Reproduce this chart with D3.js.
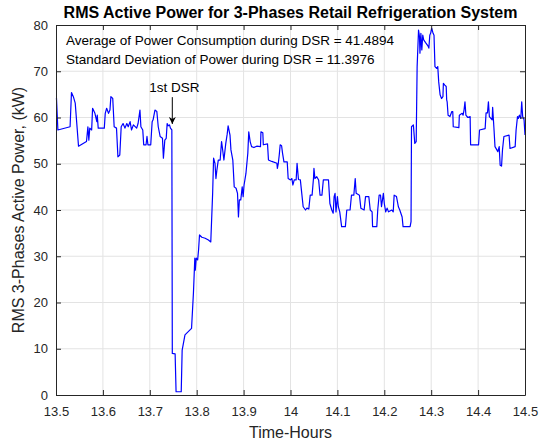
<!DOCTYPE html>
<html>
<head>
<meta charset="utf-8">
<script src="https://cdn.jsdelivr.net/npm/d3@7"></script>
<style>
  body { margin: 0; background: #fff; }
  svg { display: block; font-family: "Liberation Sans", Arial, sans-serif; }
</style>
</head>
<body>
<div id="chart"></div>
<script>
var width = 544, height = 444;
var margin = { top: 25, right: 19, bottom: 49, left: 56 };

// time in hours
var hours = [
  13.501, 13.504, 13.530, 13.533, 13.537, 13.541, 13.548, 13.565, 13.568, 13.570,
  13.572, 13.576, 13.578, 13.583, 13.587, 13.588, 13.590, 13.603, 13.605, 13.608,
  13.612, 13.615, 13.617, 13.621, 13.624, 13.629, 13.632, 13.636, 13.639, 13.643,
  13.647, 13.651, 13.654, 13.658, 13.661, 13.665, 13.672, 13.675, 13.679, 13.681,
  13.685, 13.687, 13.692, 13.694, 13.696, 13.702, 13.705, 13.707, 13.711, 13.715,
  13.718, 13.722, 13.727, 13.729, 13.732, 13.735, 13.737, 13.739, 13.742, 13.744,
  13.747, 13.748, 13.754, 13.756, 13.767, 13.769, 13.775, 13.789, 13.793, 13.796,
  13.797, 13.799, 13.802, 13.804, 13.806, 13.811, 13.818, 13.825, 13.830, 13.834,
  13.836, 13.839, 13.841, 13.843, 13.846, 13.850, 13.853, 13.855, 13.858, 13.862,
  13.865, 13.867, 13.871, 13.873, 13.877, 13.880, 13.884, 13.887, 13.889, 13.891,
  13.894, 13.897, 13.899, 13.901, 13.905, 13.909, 13.911, 13.914, 13.917, 13.922,
  13.928, 13.936, 13.937, 13.941, 13.942, 13.951, 13.953, 13.960, 13.971, 13.972,
  13.974, 13.976, 13.978, 13.981, 13.983, 13.986, 13.993, 13.995, 14.000, 14.003,
  14.005, 14.008, 14.012, 14.014, 14.017, 14.021, 14.024, 14.027, 14.032, 14.035,
  14.039, 14.042, 14.046, 14.049, 14.050, 14.052, 14.056, 14.060, 14.063, 14.067,
  14.070, 14.081, 14.084, 14.088, 14.091, 14.093, 14.095, 14.097, 14.100, 14.102,
  14.105, 14.109, 14.117, 14.120, 14.127, 14.130, 14.135, 14.138, 14.140, 14.147,
  14.150, 14.157, 14.160, 14.167, 14.170, 14.174, 14.175, 14.184, 14.186, 14.189,
  14.192, 14.194, 14.198, 14.200, 14.203, 14.206, 14.209, 14.216, 14.219, 14.221,
  14.226, 14.230, 14.233, 14.238, 14.240, 14.255, 14.257, 14.258, 14.262, 14.265,
  14.268, 14.270, 14.273, 14.275, 14.276, 14.278, 14.280, 14.282, 14.284, 14.288,
  14.293, 14.295, 14.297, 14.299, 14.301, 14.304, 14.306, 14.308, 14.312, 14.314,
  14.316, 14.319, 14.322, 14.325, 14.326, 14.329, 14.332, 14.333, 14.334, 14.336,
  14.340, 14.344, 14.346, 14.347, 14.359, 14.360, 14.366, 14.368, 14.370, 14.372,
  14.374, 14.378, 14.383, 14.384, 14.401, 14.403, 14.415, 14.417, 14.420, 14.422,
  14.424, 14.430, 14.431, 14.434, 14.436, 14.440, 14.442, 14.445, 14.447, 14.450,
  14.452, 14.455, 14.466, 14.468, 14.479, 14.481, 14.484, 14.486, 14.488, 14.491,
  14.493, 14.495, 14.498, 14.500
];

// RMS 3-phase active power, kW
var power = [
  64.2, 57.3, 58.0, 65.4, 64.5, 63.1, 53.8, 54.8, 58.0, 55.1,
  57.7, 57.3, 62.0, 60.9, 59.1, 60.5, 57.7, 57.7, 60.9, 62.0,
  60.9, 61.6, 64.5, 64.1, 58.0, 57.7, 51.5, 51.9, 58.0, 58.7,
  57.7, 58.7, 58.0, 59.1, 57.3, 58.4, 57.7, 58.7, 61.6, 58.0,
  57.3, 54.1, 54.1, 55.9, 54.1, 54.1, 59.1, 59.5, 61.6, 61.3,
  58.0, 55.9, 55.5, 51.2, 55.1, 55.5, 58.7, 58.2, 58.4, 57.7,
  57.3, 9.0, 8.9, 0.7, 0.7, 9.7, 13.0, 14.4, 22.0, 29.6,
  27.0, 29.6, 29.2, 31.4, 34.6, 34.1, 33.9, 33.5, 33.1, 43.6,
  51.2, 50.1, 46.8, 48.6, 50.8, 50.8, 54.8, 53.3, 50.8, 54.4,
  56.4, 58.2, 56.2, 53.0, 50.8, 45.0, 44.7, 43.6, 38.5, 42.2,
  42.2, 45.0, 42.9, 45.4, 47.9, 52.3, 56.9, 54.8, 53.7, 53.5,
  53.8, 53.7, 56.9, 56.7, 54.1, 54.3, 50.8, 50.5, 50.1, 49.0,
  50.1, 51.9, 54.1, 53.9, 52.3, 50.4, 50.4, 46.8, 46.5, 46.8,
  45.4, 46.5, 46.5, 50.1, 46.6, 46.5, 43.6, 40.7, 40.0, 40.4,
  40.2, 43.2, 43.2, 46.8, 49.0, 46.8, 47.2, 46.5, 43.2, 43.2,
  46.5, 46.5, 41.4, 40.0, 39.3, 42.9, 43.6, 39.6, 42.9, 40.7,
  39.6, 36.4, 36.4, 40.0, 40.0, 43.2, 43.2, 46.8, 43.6, 43.2,
  40.4, 40.0, 42.9, 42.9, 40.0, 39.6, 36.4, 36.4, 40.0, 43.2,
  43.2, 40.7, 43.6, 41.4, 39.6, 40.4, 39.6, 40.0, 39.6, 43.2,
  42.9, 40.7, 40.0, 38.5, 36.4, 36.4, 37.5, 58.0, 58.4, 54.4,
  54.8, 71.0, 78.9, 77.5, 73.9, 78.2, 74.6, 77.8, 76.8, 76.2,
  75.5, 75.0, 77.8, 78.3, 79.3, 78.2, 77.8, 71.0, 70.6, 71.0,
  67.7, 64.9, 64.1, 64.5, 67.4, 67.0, 66.7, 63.8, 63.4, 60.5,
  60.2, 61.3, 61.3, 58.0, 57.8, 60.5, 60.9, 60.5, 61.6, 63.4,
  60.5, 60.0, 60.2, 54.1, 54.1, 57.3, 57.6, 61.0, 61.0, 63.4,
  60.2, 59.5, 62.2, 57.3, 53.7, 53.0, 52.6, 53.7, 49.7, 49.5,
  53.0, 55.9, 56.2, 53.3, 53.7, 57.3, 60.2, 59.8, 60.5, 59.8,
  63.4, 60.2, 59.5, 56.2
];

var xTicks = [13.5, 13.6, 13.7, 13.8, 13.9, 14, 14.1, 14.2, 14.3, 14.4, 14.5];
var yTicks = [0, 10, 20, 30, 40, 50, 60, 70, 80];

var titleText = "RMS Active Power for 3-Phases Retail Refrigeration System";
var statLines = [
  "Average of Power Consumption during DSR = 41.4894",
  "Standard Deviation of Power during DSR = 11.3976"
];
var dsrLabel = "1st DSR";
var dsrPoint = { t: 13.748, v: 58.6, tail: 64.4 };

var w = width - margin.left - margin.right;
var h = height - margin.top - margin.bottom;

var svg = d3.select("#chart").append("svg")
  .attr("width", width).attr("height", height);

svg.append("defs").append("marker")
  .attr("id", "head")
  .attr("viewBox", "0 0 10 10")
  .attr("refX", 10).attr("refY", 5)
  .attr("markerWidth", 7).attr("markerHeight", 7)
  .attr("markerUnits", "userSpaceOnUse")
  .attr("orient", "auto")
  .append("path").attr("d", "M0,0 L10,5 L0,10 L3,5 Z").attr("fill", "#000");

var g = svg.append("g").attr("transform", "translate(" + margin.left + "," + margin.top + ")");

var x = d3.scaleLinear().domain([13.5, 14.5]).range([0, w]);
var y = d3.scaleLinear().domain([0, 80]).range([h, 0]);

// grid
g.append("g").selectAll("line").data(xTicks.slice(1, -1)).enter().append("line")
  .attr("x1", function(d) { return x(d); }).attr("x2", function(d) { return x(d); })
  .attr("y1", 0).attr("y2", h)
  .style("stroke", "#e3e3e3").style("stroke-width", 1);
g.append("g").selectAll("line").data(yTicks.slice(1, -1)).enter().append("line")
  .attr("y1", function(d) { return y(d); }).attr("y2", function(d) { return y(d); })
  .attr("x1", 0).attr("x2", w)
  .style("stroke", "#e3e3e3").style("stroke-width", 1);

// data line
var pts = hours.map(function(t, i) { return [t, power[i]]; });
var line = d3.line()
  .x(function(d) { return x(d[0]); })
  .y(function(d) { return y(d[1]); });

g.append("path").datum(pts)
  .attr("d", line)
  .attr("fill", "none")
  .style("stroke", "#0000ff")
  .style("stroke-width", 1.2)
  .style("stroke-linejoin", "round");

// axes, MATLAB style inward ticks on all sides
var tickLen = 5;
var xBottom = g.append("g").attr("transform", "translate(0," + h + ")")
  .call(d3.axisBottom(x).tickValues(xTicks).tickSizeInner(-tickLen).tickSizeOuter(0).tickPadding(12)
    .tickFormat(function(d) { return d3.format("")(d); }));
var xTop = g.append("g")
  .call(d3.axisTop(x).tickValues(xTicks).tickSizeInner(-tickLen).tickSizeOuter(0).tickFormat(""));
var yLeft = g.append("g")
  .call(d3.axisLeft(y).tickValues(yTicks).tickSizeInner(-tickLen).tickSizeOuter(0).tickPadding(8));
var yRight = g.append("g").attr("transform", "translate(" + w + ",0)")
  .call(d3.axisRight(y).tickValues(yTicks).tickSizeInner(-tickLen).tickSizeOuter(0).tickFormat(""));

[xBottom, xTop, yLeft, yRight].forEach(function(a) {
  a.select(".domain").style("stroke", "#262626").style("stroke-width", 1);
  a.selectAll(".tick line").style("stroke", "#262626");
  a.selectAll("text").style("font-size", "13px").style("fill", "#262626")
    .style("font-family", "'Liberation Sans', Arial, sans-serif");
});

// labels
svg.append("text")
  .attr("x", margin.left + w / 2).attr("y", 18)
  .attr("text-anchor", "middle")
  .style("font-weight", "bold").style("font-size", "16px").style("fill", "#000")
  .text(titleText);

svg.append("text")
  .attr("x", margin.left + w / 2).attr("y", 438)
  .attr("text-anchor", "middle")
  .style("font-size", "16px").style("fill", "#262626")
  .text("Time-Hours");

svg.append("text")
  .attr("transform", "translate(24," + (margin.top + h / 2) + ") rotate(-90)")
  .attr("text-anchor", "middle")
  .style("font-size", "16px").style("fill", "#262626")
  .text("RMS 3-Phases Active Power, (kW)");

g.selectAll(".stat").data(statLines).enter().append("text")
  .attr("class", "stat")
  .attr("x", 10)
  .attr("y", function(d, i) { return 20 + i * 18.5; })
  .style("font-size", "13.5px").style("fill", "#000")
  .text(function(d) { return d; });

// 1st DSR annotation
g.append("line")
  .attr("x1", x(dsrPoint.t)).attr("x2", x(dsrPoint.t))
  .attr("y1", y(dsrPoint.tail)).attr("y2", y(dsrPoint.v))
  .style("stroke", "#000").style("stroke-width", 1)
  .attr("marker-end", "url(#head)");

g.append("text")
  .attr("x", x(dsrPoint.t) + 2).attr("y", y(dsrPoint.tail) - 5)
  .attr("text-anchor", "middle")
  .style("font-size", "13.5px").style("fill", "#000")
  .text(dsrLabel);
</script>
</body>
</html>
